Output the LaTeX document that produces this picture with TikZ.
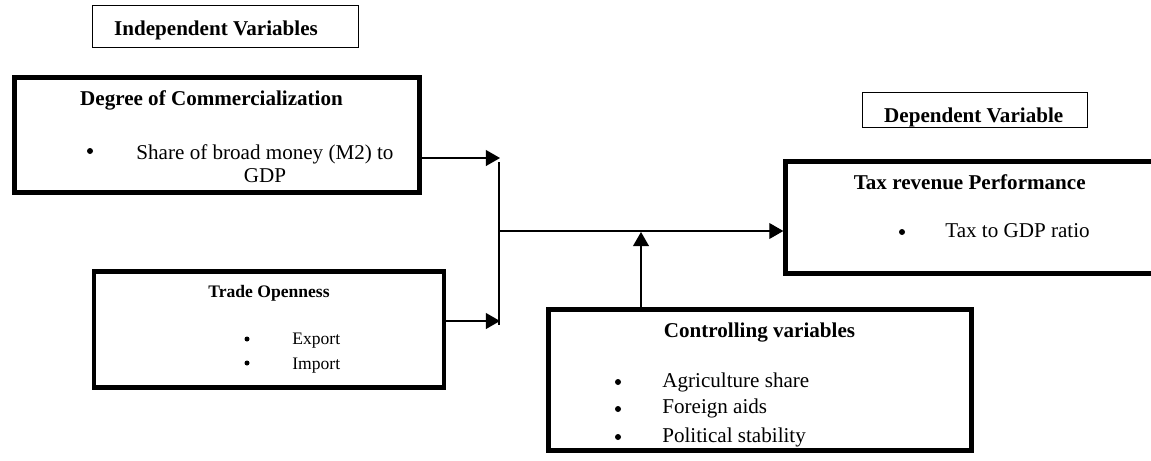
\documentclass[tikz,border=0pt]{standalone}
\usepackage{fontspec}
\setmainfont{Liberation Serif}
\usetikzlibrary{arrows.meta}

\begin{document}
\begin{tikzpicture}[auto, x=0.02cm, y=-0.02cm,
    box/.style={draw, line width=2.5pt, inner sep=0pt},
    lbl/.style={draw, line width=0.8pt, inner sep=0pt},
    ttl/.style={inner sep=0pt, anchor=base, font=\fontsize{12}{13}\selectfont\bfseries},
    itm/.style={inner sep=0pt, anchor=base west, font=\fontsize{12}{13}\selectfont},
    dot/.style={circle, fill, inner sep=0pt, minimum size=0.12cm},
    arr/.style={-{Triangle[length=8pt,width=9pt]}, line width=0.7pt}]
    \path[use as bounding box, clip] (0,0) rectangle (1151,460);
    % boxes
    \node[lbl, minimum width=5.31cm, minimum height=0.83cm] (ib) at (225.5,26.5) {};
    \node[box, minimum width=8.1cm, minimum height=2.3cm] (deg) at (217,135) {};
    \node[box, minimum width=7.0cm, minimum height=2.32cm] (tr) at (269,329.5) {};
    \node[lbl, minimum width=4.49cm, minimum height=0.69cm] (db) at (975,110) {};
    \node[box, minimum width=7.9cm, minimum height=2.24cm] (tax) at (983,217.5) {};
    \node[box, minimum width=8.46cm, minimum height=2.82cm] (ctrl) at (760,380) {};
    % texts
    \node[ttl] (ibt) at (216,35) {Independent Variables};
    \node[ttl] (degt) at (211.5,105) {Degree of Commercialization};
    \node[dot] (degd) at (90,151) {};
    \node[ttl, font=\fontsize{12}{13}\selectfont, align=center] (degi) at (265,182) {Share of broad money (M2) to\\GDP};
    \node[ttl, font=\fontsize{10}{12}\selectfont\bfseries] (trt) at (269,297) {Trade Openness};
    \node[dot, minimum size=0.1cm] (trd1) at (247,339) {};
    \node[dot, minimum size=0.1cm] (trd2) at (247,363) {};
    \node[itm, font=\fontsize{10}{12}\selectfont] (tri1) at (292,344) {Export};
    \node[itm, font=\fontsize{10}{12}\selectfont] (tri2) at (292,369) {Import};
    \node[ttl] (dbt) at (973.7,122) {Dependent Variable};
    \node[ttl] (taxt) at (969.7,189) {Tax revenue Performance};
    \node[dot] (taxd) at (902,232) {};
    \node[itm] (taxi) at (945,237) {Tax to GDP ratio};
    \node[ttl] (ctrlt) at (759.5,337) {Controlling variables};
    \node[dot] (ctrld1) at (618,382) {};
    \node[dot] (ctrld2) at (618,409) {};
    \node[dot] (ctrld3) at (618,437) {};
    \node[itm] (ctrli1) at (662,387) {Agriculture share};
    \node[itm] (ctrli2) at (662,413) {Foreign aids};
    \node[itm] (ctrli3) at (662,442) {Political stability};
    % connectors
    \coordinate (j1) at (500,158);
    \coordinate (j2) at (500,321);
    \coordinate (vt) at (499,162);
    \coordinate (vb) at (499,325);
    \coordinate (jm) at (499,231);
    \coordinate (jc) at (641,232);
    \draw [arr] (deg.east |- j1) to (j1);
    \draw [arr] (tr.east |- j2) to (j2);
    \draw [line width=0.7pt] (vt) to (vb);
    \draw [arr] (jm) to (tax.west |- jm);
    \draw [arr] (ctrl.north -| jc) to (jc);
\end{tikzpicture}
\end{document}
